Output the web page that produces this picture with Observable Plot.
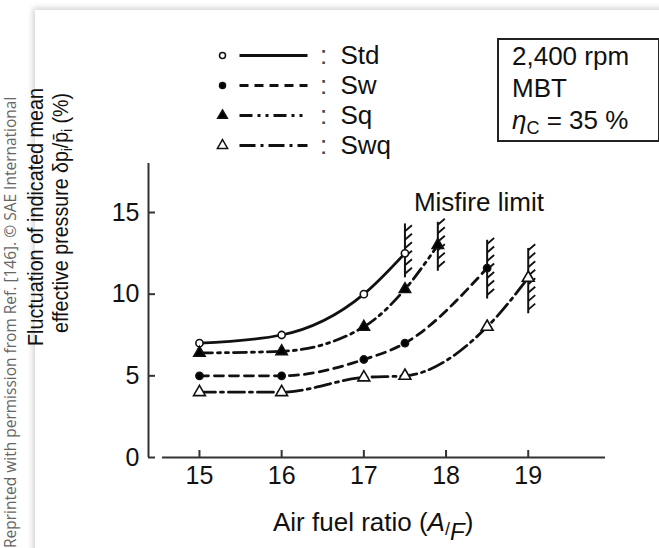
<!DOCTYPE html>
<html><head><meta charset="utf-8">
<script src="https://cdn.jsdelivr.net/npm/d3@7"></script>
<script src="https://cdn.jsdelivr.net/npm/@observablehq/plot@0.6"></script>
<style>
body{margin:0;background:#fff;}
#wrap{position:relative;width:659px;height:548px;overflow:hidden;font-family:"Liberation Sans",Arial,sans-serif;color:#111;}
#card{position:absolute;left:35px;top:10px;width:700px;height:600px;background:#fff;box-shadow:-2px -2px 6px rgba(0,0,0,0.18);}
#main,#legend,#over{position:absolute;left:0;top:0;}
#legend{left:200px;top:30px;}
#box{position:absolute;left:497px;top:38px;width:146px;height:100px;border:2px solid #222;font-size:26px;line-height:32px;padding-left:13px;}
#box sub{font-size:18px;vertical-align:-5px;line-height:0;}
</style></head><body>
<div id="wrap"><div id="card"></div><div id="main"></div><div id="legend"></div>
<div id="box">2,400 rpm<br>MBT<br><i>η</i><sub>C</sub> = 35 %</div>
<svg id="over" width="659" height="548"></svg></div>
<script>
// ---- data ----
const seriesNames = ["Std", "Sw", "Sq", "Swq"];
const stdAFR = [15, 16, 17, 17.5];
const stdFluct = [7.0, 7.5, 10.0, 12.5];
const swAFR = [15, 16, 17, 17.5, 18.5];
const swFluct = [5.0, 5.0, 6.0, 7.0, 11.6];
const sqAFR = [15, 16, 17, 17.5, 17.9];
const sqFluct = [6.4, 6.5, 8.0, 10.3, 13.0];
const swqAFR = [15, 16, 17, 17.5, 18.5, 19];
const swqFluct = [4.0, 4.0, 4.9, 5.0, 8.0, 11.0];
const misfireAFR = [17.5, 17.9, 18.5, 19.0];
const misfireTop = [14.3, 14.4, 13.3, 12.8];
const misfireBottom = [11.0, 11.4, 9.7, 8.8];
const xTicks = [15, 16, 17, 18, 19];
const yTicks = [0, 5, 10, 15];

const xDomain = [14.38, 19.94], yDomain = [0, 18];
const W = 659, H = 548, mL = 148, mR = 54, mT = 163, mB = 91;
const pxX = (xDomain[1] - xDomain[0]) / (W - mL - mR);
const pxY = (yDomain[1] - yDomain[0]) / (H - mT - mB);

const toRows = (xs, ys) => xs.map((x, i) => ({x, y: ys[i]}));
const seriesData = {
  Std: toRows(stdAFR, stdFluct), Sw: toRows(swAFR, swFluct),
  Sq: toRows(sqAFR, sqFluct), Swq: toRows(swqAFR, swqFluct)
};
const styles = {
  Std: {dash: null, symbol: "circle", fill: "white", r: 3.6},
  Sw: {dash: "9,6", symbol: "circle", fill: "black", r: 3.6},
  Sq: {dash: "13,5,3,5,3,5", symbol: "triangle", fill: "black", r: 4.2},
  Swq: {dash: "16,5,3,5", symbol: "triangle", fill: "white", r: 4.4}
};
const misfire = misfireAFR.map((x, i) => ({x, top: misfireTop[i], bottom: misfireBottom[i]}));
const hatches = misfire.flatMap(m => d3.range(m.bottom + 0.25, m.top - 0.1, 0.52).map(y => ({x: m.x, y})));

const font = "Liberation Sans, Arial, sans-serif";
const stroke = "#111";

const marks = [
  Plot.ruleX([xDomain[0]], {y1: 0, y2: 18, stroke: "#333", strokeWidth: 2}),
  Plot.ruleY([0], {x1: xDomain[0] + 14 * pxX, x2: xDomain[1], stroke: "#333", strokeWidth: 2}),
  Plot.ruleX(xTicks, {y1: 0, y2: 7 * pxY, stroke: "#333", strokeWidth: 2}),
  Plot.ruleY(yTicks, {x1: xDomain[0], x2: xDomain[0] + 7 * pxX, stroke: "#333", strokeWidth: 2}),
  Plot.ruleX(misfire, {x: "x", y1: "bottom", y2: "top", stroke, strokeWidth: 2}),
  Plot.link(hatches, {x1: "x", y1: "y", x2: d => d.x + 7 * pxX, y2: d => d.y + 6 * pxY, stroke, strokeWidth: 1.8})
];
for (const s of seriesNames) {
  marks.push(Plot.line(seriesData[s], {x: "x", y: "y", curve: "monotone-x", stroke, strokeWidth: 2.8, strokeDasharray: styles[s].dash}));
}
for (const s of seriesNames) {
  marks.push(Plot.dot(seriesData[s], {x: "x", y: "y", symbol: styles[s].symbol, r: styles[s].r, fill: styles[s].fill, stroke, strokeWidth: 1.6}));
}
marks.push(Plot.text([{x: 18.4, y: 15.1, t: "Misfire limit"}], {x: "x", y: "y", text: "t", lineAnchor: "bottom", fontSize: 26, fill: "#111"}));

const main = Plot.plot({
  width: W, height: H, marginLeft: mL, marginRight: mR, marginTop: mT, marginBottom: mB,
  style: {fontFamily: font, fontSize: "25px", background: "transparent", color: "#111"},
  x: {domain: xDomain, ticks: xTicks, tickFormat: d => String(d), tickSize: 0, tickPadding: 9, label: null},
  y: {domain: yDomain, ticks: yTicks, tickFormat: d => String(d), tickSize: 0, tickPadding: 9, label: null},
  marks
});
document.getElementById("main").appendChild(main);

// legend
const legMarks = [];
for (const s of seriesNames) {
  legMarks.push(Plot.link([s], {x1: () => 39, x2: () => 107, y1: d => d, y2: d => d, stroke, strokeWidth: 2.8, strokeDasharray: styles[s].dash}));
  legMarks.push(Plot.dot([s], {x: () => 22, y: d => d, symbol: styles[s].symbol, r: styles[s].r - 0.6, fill: styles[s].fill, stroke, strokeWidth: 1.5}));
  legMarks.push(Plot.text([s], {x: () => 123, y: d => d, text: () => ":", fill: "#444"}));
  legMarks.push(Plot.text([s], {x: () => 140, y: d => d, text: d => d, textAnchor: "start", fill: "#111"}));
}
const legend = Plot.plot({
  width: 220, height: 130, margin: 0,
  style: {fontFamily: font, fontSize: "26px", background: "transparent", overflow: "visible"},
  x: {domain: [0, 220], range: [0, 220], axis: null},
  y: {type: "point", domain: seriesNames, range: [24, 115.5], padding: 0, axis: null},
  marks: legMarks
});
document.getElementById("legend").appendChild(legend);

// overlay texts
const over = d3.select("#over").style("font-family", font);
const yl = over.append("text").attr("transform", "translate(43,217) rotate(-90)")
  .attr("text-anchor", "middle").attr("font-size", 21.5).attr("fill", "#111")
  .attr("textLength", 258).attr("lengthAdjust", "spacingAndGlyphs");
yl.text("Fluctuation of indicated mean");
const l2 = over.append("text").attr("transform", "translate(68,213) rotate(-90)")
  .attr("text-anchor", "middle").attr("font-size", 21.5).attr("fill", "#111")
  .attr("textLength", 240).attr("lengthAdjust", "spacingAndGlyphs");
l2.append("tspan").text("effective pressure δp");
l2.append("tspan").attr("font-size", 14).attr("dy", 4).text("i");
l2.append("tspan").attr("dy", -4).text("/p\u0304");
l2.append("tspan").attr("font-size", 14).attr("dy", 4).text("i");
l2.append("tspan").attr("dy", -4).text(" (%)");

const xl = over.append("text").attr("x", 273).attr("y", 531).attr("font-size", 26).attr("fill", "#111");
xl.append("tspan").text("Air fuel ratio (");
xl.append("tspan").attr("font-style", "italic").text("A");
xl.append("tspan").attr("font-size", 18).attr("dy", 4).text("/");
xl.append("tspan").attr("font-style", "italic").attr("font-size", 24).attr("dy", 5).text("F");
xl.append("tspan").attr("dy", -9).text(")");

over.append("text").attr("transform", "translate(16,548) rotate(-90)")
  .attr("font-family", "Open Sans, sans-serif").attr("font-size", 15.5).attr("fill", "#666")
  .text("Reprinted with permission from Ref. [146]. © SAE International");
</script></body></html>
